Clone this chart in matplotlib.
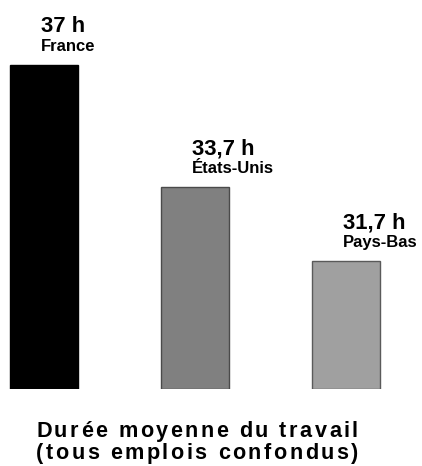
import numpy as np
import matplotlib
matplotlib.use('Agg')
import matplotlib.pyplot as plt
from matplotlib.font_manager import FontProperties

#- data
countries = ['France', 'États-Unis', 'Pays-Bas']
hours     = [37.0, 33.7, 31.7]
labels    = ['37 h', '33,7 h', '31,7 h']
colors    = ['#000000', '#808080', '#a0a0a0']
edges     = ['#000000', '#4a4a4a', '#5a5a5a']
title_lines = ['Durée moyenne du travail', '(tous emplois confondus)']

W, H = 422, 466
fig = plt.figure(figsize=(W/100, H/100), dpi=100)
ax = fig.add_axes([0, 77/H, 1, 389/H])
x = np.arange(len(hours))
ax.bar(x, [h - 28.25 for h in hours], bottom=28.25, width=0.45,
       color=colors, edgecolor=edges, linewidth=1)
ax.set_xlim(-44/151, (W-44)/151)
ax.set_ylim(28.25, 28.25 + 389/37)
ax.axis('off')

ppu = 37.0  # pixels per hour on the y axis
for xi, h, lab, c in zip(x, hours, labels, countries):
    ax.text(xi - 0.02, h + 33/ppu, lab, fontsize=15.8, fontweight='bold',
            family='Liberation Sans', ha='left', va='baseline')
    ax.text(xi - 0.02, h + 14/ppu, c, fontsize=12, fontweight='bold',
            family='Liberation Sans', ha='left', va='baseline')

#- letter-spaced title drawn char by char
fig.canvas.draw()
r = fig.canvas.get_renderer()
prop = FontProperties(family='Liberation Sans', weight='bold', size=15.6)
def tw(s):
    return r.get_text_width_height_descent(s, prop, ismath=False)[0]
def spaced(s, x0, x1, y_base):
    ws = [tw(ch) if ch != ' ' else tw('a a') - 2*tw('a') for ch in s]
    spacing = ((x1 - x0) - sum(ws)) / (len(s) - 1)
    xp = x0
    for ch, w in zip(s, ws):
        fig.text(xp/W, 1 - y_base/H, ch, fontproperties=prop,
                 ha='left', va='baseline')
        xp += w + spacing

spaced(title_lines[0], 36, 358, 437)
spaced(title_lines[1], 36, 358, 459)

plt.savefig('out.png', dpi=100)
